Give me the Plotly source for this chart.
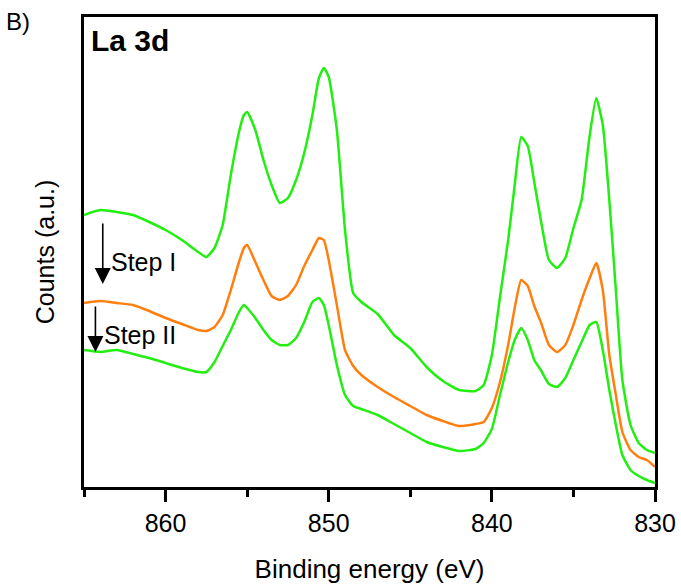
import plotly.graph_objects as go

# Binding energy grid (eV)
energy = [865, 864, 863, 862, 861, 860, 859, 858, 857.5, 857,
          856.5, 856, 855.5, 855.2, 855, 854.5, 854, 853.5, 853, 852.5,
          852, 851.5, 851, 850.6, 850.3, 850, 849.5, 849, 848.5, 848,
          847, 846, 845, 844, 843, 842, 841, 840.5, 840, 839.5,
          839, 838.6, 838.2, 837.8, 837.4, 837, 836.5, 836, 835.5, 835,
          834.5, 834, 833.6, 833.2, 832.8, 832.4, 832, 831.5, 831, 830.5,
          830]

# Counts (a.u.)
initial = [275, 280, 278, 275, 268, 260, 250, 238, 233, 242,
           265, 315, 358, 375, 378, 360, 330, 305, 287, 292,
           310, 337, 375, 412, 422, 413, 360, 260, 197, 188,
           176, 155, 142, 123, 109, 100, 99, 105, 135, 193,
           250, 305, 353, 344, 308, 270, 230, 222, 232, 262,
           290, 355, 392, 365, 290, 200, 110, 65, 47, 40,
           37]

step1 = [187, 189, 187, 185, 179, 172, 166, 160, 159, 163,
         175, 200, 228, 242, 245, 228, 210, 194, 190, 194,
         205, 224, 240, 252, 250, 230, 185, 140, 124, 115,
         103, 93, 84, 75, 69, 64, 66, 68, 82, 108,
         145, 182, 210, 204, 184, 168, 145, 138, 145, 165,
         190, 212, 227, 200, 135, 95, 58, 40, 33, 30,
         23]

step2 = [140, 138, 140, 136, 132, 127, 122, 118, 118, 128,
         144, 160, 178, 185, 182, 172, 160, 150, 145, 145,
         152, 168, 188, 192, 185, 165, 125, 95, 84, 81,
         75, 66, 57, 48, 43, 39, 41, 47, 61, 95,
         128, 150, 162, 150, 130, 120, 106, 103, 112, 130,
         148, 165, 168, 140, 100, 65, 35, 20, 14, 10,
         7]

GREEN = "#22EE11"
ORANGE = "#FF7F0E"
FONT = "Liberation Sans, Arial, sans-serif"

fig = go.Figure()
for ys, col in [(initial, GREEN), (step1, ORANGE), (step2, GREEN)]:
    fig.add_trace(go.Scatter(x=energy, y=ys, mode="lines",
                             line=dict(color=col, width=2.5, shape="spline", smoothing=0.5),
                             showlegend=False, hoverinfo="skip"))

fig.update_layout(
    width=681, height=588,
    margin=dict(l=84, r=26, t=17, b=101),
    paper_bgcolor="white", plot_bgcolor="white",
    font=dict(family=FONT, color="black"),
    xaxis=dict(range=[865, 830], showgrid=False, zeroline=False, automargin=False,
               showline=True, linewidth=3, linecolor="black", mirror=True,
               ticks="outside", ticklen=12, tickwidth=3, tickcolor="black",
               tick0=830, dtick=10, tickfont=dict(size=25, family=FONT),
               minor=dict(dtick=5, tick0=830, ticks="outside", ticklen=7,
                          tickwidth=3, tickcolor="black", showgrid=False),
               title=dict(text="Binding energy (eV)", font=dict(size=26, family=FONT),
                          standoff=24)),
    yaxis=dict(range=[3, 473], showgrid=False, zeroline=False, automargin=False,
               showline=True, linewidth=3, linecolor="black", mirror=True,
               ticks="", showticklabels=False,
               title=dict(text="Counts (a.u.)", font=dict(size=25, family=FONT),
                          standoff=20)),
)

fig.add_annotation(text="B)", xref="paper", yref="paper", x=-0.14, y=0.99,
                   xanchor="left", yanchor="middle", showarrow=False,
                   font=dict(size=24, family=FONT))
fig.add_annotation(text="<b>La 3d</b>", xref="paper", yref="paper", x=0.008, y=0.99,
                   xanchor="left", yanchor="top", showarrow=False,
                   font=dict(size=30, family=FONT))
fig.add_annotation(text="Step I", x=863.45, y=228, xref="x", yref="y",
                   xanchor="left", yanchor="middle", showarrow=False,
                   font=dict(size=25, family=FONT))
fig.add_annotation(text="Step II", x=863.9, y=155, xref="x", yref="y",
                   xanchor="left", yanchor="middle", showarrow=False,
                   font=dict(size=25, family=FONT))
# arrows
fig.add_annotation(x=863.85, y=206, ax=863.85, ay=268, xref="x", yref="y",
                   axref="x", ayref="y", text="", showarrow=True,
                   arrowhead=2, arrowsize=2, arrowwidth=1.6, arrowcolor="black")
fig.add_annotation(x=864.3, y=138, ax=864.3, ay=185, xref="x", yref="y",
                   axref="x", ayref="y", text="", showarrow=True,
                   arrowhead=2, arrowsize=2, arrowwidth=1.6, arrowcolor="black")

fig.write_html("out.html")
